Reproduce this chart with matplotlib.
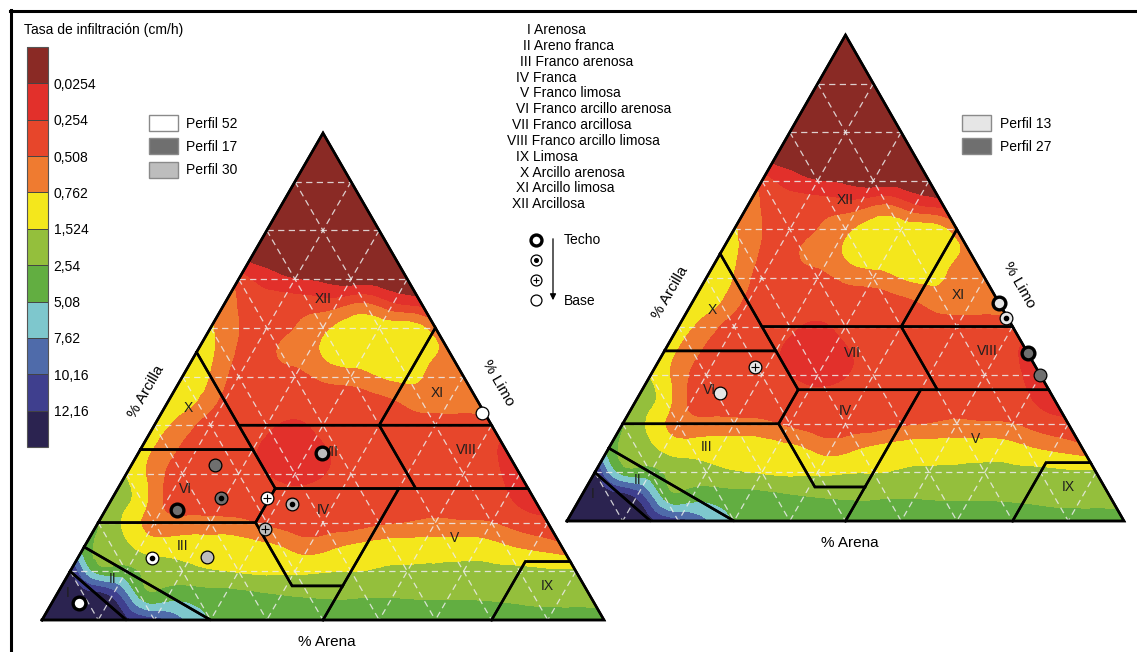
import numpy as np
import matplotlib.pyplot as plt
import matplotlib.tri as mtri
from matplotlib.colors import ListedColormap, BoundaryNorm
from matplotlib.cm import ScalarMappable
from matplotlib.patches import Patch

plt.rcParams['font.family'] = ['Liberation Sans', 'DejaVu Sans']

W, H = 1137, 652

# infiltration classes, top of the colour bar first
band_colors = ['#8a2a25', '#e2302b', '#e7462b', '#ef7b30', '#f4e71c',
               '#94bf3c', '#62ae41', '#7ec7cd', '#4f6baa', '#3f3f8e', '#2b2350']
band_ticks = ['0,0254', '0,254', '0,508', '0,762', '1,524', '2,54',
              '5,08', '7,62', '10,16', '12,16']

# band index read on a 5 % lattice: one row per clay level (100 -> 0),
# from the sand-clay edge (silt 0) to the silt-clay edge (sand 0)
field_rows = [
    [0],
    [0, 0],
    [0, 0, 0],
    [0, 0, 0, 0],
    [0, 0, 0, 0, 0],
    [0, 0, 0, 0, 0, 0],
    [2, 1, 0.5, 0.3, 0, 0, 0],
    [3, 2, 2, 2, 2, 2.5, 1.5, 1],
    [3.6, 2.5, 2, 2.5, 3.2, 4, 4, 4, 3.0],
    [4, 3, 2, 2.6, 3.1, 4, 4, 4, 3.9, 3.2],
    [4, 3.4, 2, 2, 2.2, 2.7, 3, 3.5, 3.7, 3.2, 2.8],
    [4, 3.5, 2.2, 2, 2, 2, 2, 2, 2.4, 3, 3, 3],
    [4, 3, 2, 2, 1.7, 1.3, 1.8, 2, 2, 2, 2, 2, 2],
    [4, 2.8, 2, 2, 1.6, 1, 1, 1.7, 2, 2, 2, 2, 1.8, 1.3],
    [4.4, 3, 2, 2, 2, 1.5, 1, 1.4, 2, 2, 2, 2, 2, 1.7, 1],
    [5, 4, 2.2, 2, 2, 2, 1.9, 1.9, 2, 2, 2, 2, 2, 2, 1.6, 1],
    [5.5, 4.2, 3, 2.8, 2.8, 2.7, 2.3, 2, 2, 2, 2.3, 2.5, 2.7, 2.6, 2.5, 2, 1.7],
    [6, 5, 4.2, 4, 4, 4, 3.8, 3.5, 3, 3.4, 3.8, 4, 4, 4, 4, 3.6, 3.2, 2.8],
    [9.7, 6, 5.8, 5, 4.8, 4.55, 4.4, 4.3, 4.3, 4.4, 4.45, 4.55, 4.6, 4.65, 4.7, 4.7, 4.7, 4.6, 4.6],
    [10, 10, 9.2, 6.1, 6, 6, 5.9, 5.7, 5.5, 5.4, 5.35, 5.4, 5.4, 5.35, 5.35, 5.35, 5.3, 5.2, 5.15, 5.1],
    [10, 10, 10, 9.7, 8.8, 7.5, 6.4, 6, 6, 6, 6, 6, 6, 6, 6, 6, 6, 6, 6, 6, 6],
]

# USDA texture classes, vertices as (sand, silt, clay)
class_names = ['I', 'II', 'III', 'IV', 'V', 'VI', 'VII', 'VIII', 'IX', 'X', 'XI', 'XII']
class_polys = [
    [(100, 0, 0), (90, 0, 10), (85, 15, 0)],
    [(90, 0, 10), (85, 0, 15), (70, 30, 0), (85, 15, 0)],
    [(85, 0, 15), (80, 0, 20), (52, 28, 20), (52, 41, 7), (43, 50, 7), (50, 50, 0), (70, 30, 0)],
    [(43, 50, 7), (52, 41, 7), (52, 28, 20), (45, 28, 27), (23, 50, 27)],
    [(50, 50, 0), (20, 80, 0), (8, 80, 12), (0, 88, 12), (0, 73, 27), (23, 50, 27), (43, 50, 7)],
    [(80, 0, 20), (65, 0, 35), (45, 20, 35), (45, 28, 27), (52, 28, 20)],
    [(45, 28, 27), (45, 15, 40), (20, 40, 40), (20, 53, 27)],
    [(20, 53, 27), (20, 40, 40), (0, 60, 40), (0, 73, 27)],
    [(20, 80, 0), (0, 100, 0), (0, 88, 12), (8, 80, 12)],
    [(65, 0, 35), (45, 0, 55), (45, 20, 35)],
    [(20, 40, 40), (0, 60, 40), (0, 40, 60)],
    [(45, 0, 55), (0, 0, 100), (0, 40, 60), (20, 40, 40), (45, 15, 40)],
]
# label anchor of each class as (silt, clay)
class_label_pos = [(1.9, 5.5), (8.4, 8.4), (17.5, 15.2), (38.7, 22.6), (65, 16.8), (12, 27),
                   (34, 34.5), (58, 35), (86.5, 7), (4.3, 43.5), (47, 46.6), (17, 66)]

class_legend = ['I Arenosa', 'II Areno franca', 'III Franco arenosa', 'IV Franca',
                'V Franco limosa', 'VI Franco arcillo arenosa', 'VII Franco arcillosa',
                'VIII Franco arcillo limosa', 'IX Limosa', 'X Arcillo arenosa',
                'XI Arcillo limosa', 'XII Arcillosa']
class_legend_x = [527, 523, 520, 516, 520, 516, 512, 507, 516, 520, 516, 512]

# samples: (sand, silt, clay), position in the profile, profile
left_samples = [
    ((91.8, 4.8, 3.4), 'techo', 'Perfil 52'),
    ((74.1, 13.2, 12.7), 'dot', 'Perfil 52'),
    ((47.5, 27.5, 25.0), 'plus', 'Perfil 52'),
    ((0.5, 57.0, 42.5), 'base', 'Perfil 52'),
    ((64.7, 12.7, 22.6), 'techo', 'Perfil 17'),
    ((55.6, 19.4, 25.0), 'dot', 'Perfil 17'),
    ((53.4, 14.8, 31.8), 'base', 'Perfil 17'),
    ((33.1, 32.7, 34.2), 'techo', 'Perfil 30'),
    ((43.7, 32.5, 23.8), 'dot', 'Perfil 30'),
    ((51.0, 30.4, 18.6), 'plus', 'Perfil 30'),
    ((64.2, 22.8, 13.0), 'base', 'Perfil 30'),
]
right_samples = [
    ((0.0, 55.1, 44.9), 'techo', 'Perfil 13'),
    ((0.3, 57.9, 41.8), 'dot', 'Perfil 13'),
    ((50.4, 17.9, 31.7), 'plus', 'Perfil 13'),
    ((59.4, 14.3, 26.3), 'base', 'Perfil 13'),
    ((0.0, 65.4, 34.6), 'techo', 'Perfil 27'),
    ((0.0, 70.0, 30.0), 'base', 'Perfil 27'),
]
profile_colors = {'Perfil 52': '#ffffff', 'Perfil 17': '#6f6f6f', 'Perfil 30': '#bdbdbd',
                  'Perfil 13': '#e6e6e6', 'Perfil 27': '#6f6f6f'}

# triangle frames in pixels: bottom-left corner, base width, height
left_geo = dict(x0=42, y0=620, w=562, h=487)
right_geo = dict(x0=567, y0=521, w=557, h=486)


def to_xy(silt, clay, g):
    silt = np.asarray(silt, dtype=float)
    clay = np.asarray(clay, dtype=float)
    return g['x0'] + g['w'] * (silt + clay / 2) / 100, g['y0'] - g['h'] * clay / 100


def lattice():
    silt, clay, val = [], [], []
    for i, row in enumerate(field_rows):
        c = 100 - 5 * i
        for j, v in enumerate(row):
            silt.append(5 * j)
            clay.append(c)
            val.append(v)
    return np.array(silt), np.array(clay), np.array(val, dtype=float)


cmap = ListedColormap(band_colors)
norm = BoundaryNorm(np.arange(-0.5, 11.5, 1), cmap.N)


def marker(ax, x, y, kind, fc, size=84):
    lw = 2.4 if kind == 'techo' else 0.9
    ax.scatter(x, y, s=size, facecolor=fc, edgecolor='black', linewidths=lw, zorder=6)
    if kind == 'dot':
        ax.scatter(x, y, s=size * 0.11, color='black', zorder=7)
    elif kind == 'plus':
        ax.scatter(x, y, s=size * 0.35, marker='+', color='black', linewidths=0.8, zorder=7)


def smooth_field(tri, val):
    # cubic refinement, kept within the range of each coarse triangle
    tri_f, val_f = mtri.UniformTriRefiner(tri).refine_field(val, subdiv=3)
    ti = tri.get_trifinder()(tri_f.x, tri_f.y)
    ok = ti >= 0
    corner_vals = val[tri.triangles[ti[ok]]]
    val_f[ok] = np.clip(val_f[ok], corner_vals.min(axis=1), corner_vals.max(axis=1))
    return tri_f, np.clip(val_f, 0, 10)


def draw_triangle(ax, g, samples):
    silt, clay, val = lattice()
    x, y = to_xy(silt, clay, g)
    tri_f, val_f = smooth_field(mtri.Triangulation(x, y), val)
    ax.tricontourf(tri_f, val_f, levels=np.arange(-0.5, 11.5, 1), cmap=cmap, norm=norm, zorder=1)

    # dashed 10 % grid
    for k in range(10, 100, 10):
        for s0, c0, s1, c1 in [(0, k, 100 - k, k), (0, 100 - k, 100 - k, 0), (k, 100 - k, k, 0)]:
            xs, ys = to_xy([s0, s1], [c0, c1], g)
            ax.plot(xs, ys, color='#ececec', lw=0.9, dashes=(5, 3.5), alpha=0.85, zorder=2)

    for poly in class_polys:
        pts = np.array(poly + [poly[0]], dtype=float)
        xs, ys = to_xy(pts[:, 1], pts[:, 2], g)
        ax.plot(xs, ys, color='black', lw=1.8, solid_joinstyle='miter', zorder=3)
    xs, ys = to_xy([0, 100, 0, 0], [0, 0, 100, 0], g)
    ax.plot(xs, ys, color='black', lw=1.8, solid_joinstyle='miter', zorder=3)

    for name, (s, c) in zip(class_names, class_label_pos):
        lx, ly = to_xy(s, c, g)
        ax.text(lx, ly, name, fontsize=10, color='#1e1e1e', ha='center', va='center', zorder=4)

    # axis titles along the edges
    lx, ly = to_xy(0, 44.5, g)
    ax.text(lx - 21, ly - 12, '% Arcilla', rotation=60, fontsize=11, ha='center', va='center')
    lx, ly = to_xy(54, 46, g)
    ax.text(lx + 23, ly - 13, '% Limo', rotation=-60, fontsize=11, ha='center', va='center')
    lx, ly = to_xy(50, 0, g)
    ax.text(lx + 4, ly + 22, '% Arena', fontsize=11, ha='center', va='center')

    for (sand, s, c), kind, prof in samples:
        mx, my = to_xy(s, c, g)
        marker(ax, mx, my, kind, profile_colors[prof])


fig = plt.figure(figsize=(W / 100, H / 100), dpi=100)
ax = fig.add_axes([0, 0, 1, 1])
ax.set_xlim(0, W)
ax.set_ylim(H, 0)
ax.axis('off')

# page frame
ax.plot([10, W], [11, 11], color='black', lw=2.2, zorder=8)
ax.plot([10.5, 10.5], [10, H], color='black', lw=2.2, zorder=8)

draw_triangle(ax, left_geo, left_samples)
draw_triangle(ax, right_geo, right_samples)

# colour bar
ax.text(24, 30, 'Tasa de infiltración (cm/h)', fontsize=10, ha='left', va='center')
cax = fig.add_axes([27 / W, 1 - 447 / H, 21 / W, 400 / H])
cb = fig.colorbar(ScalarMappable(norm=norm, cmap=cmap), cax=cax,
                  ticks=np.arange(0.5, 10.5, 1))
cb.ax.invert_yaxis()
cb.set_ticklabels(band_ticks)
cb.ax.tick_params(length=0, labelsize=10, pad=4)
cb.ax.minorticks_off()
cb.outline.set_edgecolor('#555555')
cb.outline.set_linewidth(0.8)
for v in np.arange(0.5, 10.5, 1):
    cb.ax.axhline(v, color='#444444', lw=0.7)

# class list
for i, (txt, tx) in enumerate(zip(class_legend, class_legend_x)):
    ax.text(tx, 30 + 15.85 * i, txt, fontsize=10, ha='left', va='center')

# top -> base symbols
for i, kind in enumerate(['techo', 'dot', 'plus', 'base']):
    marker(ax, 536, 240 + 20 * i, kind, 'white', size=62)
ax.annotate('', xy=(553, 303), xytext=(553, 236),
            arrowprops=dict(arrowstyle='-|>', color='black', lw=0.9, mutation_scale=9))
ax.text(564, 240, 'Techo', fontsize=10, ha='left', va='center')
ax.text(564, 301, 'Base', fontsize=10, ha='left', va='center')

# profile legends
for names, anchor in [(['Perfil 52', 'Perfil 17', 'Perfil 30'], (149, 115)),
                      (['Perfil 13', 'Perfil 27'], (962, 115))]:
    handles = [Patch(facecolor=profile_colors[n], edgecolor='#8a8a8a', lw=1, label=n) for n in names]
    fig.legend(handles=handles, loc='upper left',
               bbox_to_anchor=(anchor[0] / W, 1 - anchor[1] / H),
               frameon=False, fontsize=10, handlelength=2.1, handleheight=1.37,
               labelspacing=0.55, handletextpad=0.6, borderpad=0, borderaxespad=0)

fig.savefig('out.png', dpi=100)
